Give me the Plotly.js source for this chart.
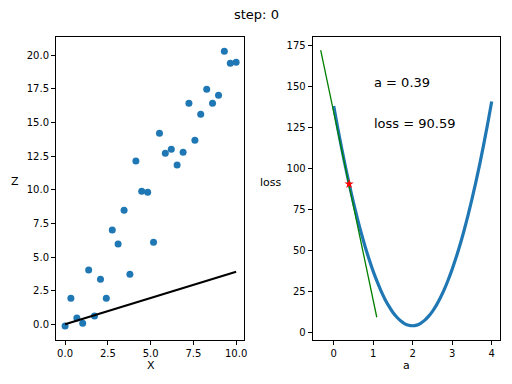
<!DOCTYPE html>
<html>
<head>
<meta charset="utf-8">
<script src="https://cdn.plot.ly/plotly-3.0.1.min.js"></script>
<style>html,body{margin:0;padding:0;background:#fff;}#chart{width:512px;height:384px;}</style>
</head>
<body>
<div id="chart"></div>
<script>
// Scatter data (left panel)
const xData = [0.00, 0.34, 0.69, 1.03, 1.38, 1.72, 2.07, 2.41, 2.76, 3.10,
               3.45, 3.79, 4.14, 4.48, 4.83, 5.17, 5.52, 5.86, 6.21, 6.55,
               6.90, 7.24, 7.59, 7.93, 8.28, 8.62, 8.97, 9.31, 9.66, 10.00];
const zData = [-0.12, 1.93, 0.47, 0.07, 4.04, 0.62, 3.35, 1.93, 7.01, 5.97,
               8.48, 3.72, 12.14, 9.89, 9.81, 6.10, 14.20, 12.71, 13.01, 11.85,
               12.79, 16.43, 13.68, 15.61, 17.47, 16.43, 17.03, 20.30, 19.41, 19.48];
// Current fit line z = a*x
const fitX = [0, 10];
const fitZ = [0, 3.9];
// Loss curve (right panel)
const curveA = [0.0,0.1,0.2,0.3,0.4,0.5,0.6,0.7,0.8,0.9,1.0,1.1,1.2,1.3,1.4,1.5,1.6,1.7,1.8,1.9,2.0,
                2.1,2.2,2.3,2.4,2.5,2.6,2.7,2.8,2.9,3.0,3.1,3.2,3.3,3.4,3.5,3.6,3.7,3.8,3.9,4.0];
const curveLoss = [138.2,125.1,112.6,100.8,89.7,79.3,69.5,60.4,52.0,44.3,37.2,30.9,25.2,20.1,15.8,12.1,9.2,6.9,5.2,4.3,4.0,
                   4.4,5.5,7.3,9.7,12.8,16.6,21.1,26.2,32.1,38.6,45.8,53.6,62.2,71.4,81.3,91.9,103.1,115.1,127.7,141.0];
// Tangent line and current point
const tangentA = [-0.33, 1.09];
const tangentLoss = [172.4, 9.2];
const currentA = [0.39];
const currentLoss = [90.59];
const titleText = "step: 0";
const aText = "a = 0.39";
const lossText = "loss = 90.59";

const font = "DejaVu Sans, sans-serif";
const axisCommon = {
  showgrid: false, zeroline: false, showline: true, mirror: true,
  linecolor: "#000", linewidth: 1, ticks: "outside", ticklen: 4, tickcolor: "#000",
  tickfont: {family: font, size: 10, color: "#000"}
};

const traces = [
  {x: xData, y: zData, mode: "markers", type: "scatter", xaxis: "x", yaxis: "y",
   marker: {color: "#1f77b4", size: 7}},
  {x: fitX, y: fitZ, mode: "lines", type: "scatter", xaxis: "x", yaxis: "y",
   line: {color: "#000", width: 2.2}},
  {x: curveA, y: curveLoss, mode: "lines", type: "scatter", xaxis: "x2", yaxis: "y2",
   line: {color: "#1f77b4", width: 3.2, shape: "spline"}},
  {x: tangentA, y: tangentLoss, mode: "lines", type: "scatter", xaxis: "x2", yaxis: "y2",
   line: {color: "green", width: 1.3}},
  {x: currentA, y: currentLoss, mode: "markers", type: "scatter", xaxis: "x2", yaxis: "y2",
   marker: {color: "red", symbol: "star", size: 7}}
];

const layout = {
  width: 512, height: 384, showlegend: false,
  paper_bgcolor: "#fff", plot_bgcolor: "#fff",
  margin: {l: 0, r: 0, t: 0, b: 0},
  font: {family: font, color: "#000"},
  xaxis: Object.assign({}, axisCommon, {domain: [56/512, 244/512], range: [-0.53, 10.46], tickvals: [0,2.5,5,7.5,10], tickformat: ".1f", anchor: "y"}),
  yaxis: Object.assign({}, axisCommon, {domain: [44/384, 347/384], range: [-1.17, 21.36], tickvals: [0,2.5,5,7.5,10,12.5,15,17.5,20], tickformat: ".1f", anchor: "x"}),
  xaxis2: Object.assign({}, axisCommon, {domain: [312.7/512, 500/512], range: [-0.532, 4.21], tickvals: [0,1,2,3,4], anchor: "y2"}),
  yaxis2: Object.assign({}, axisCommon, {domain: [44/384, 347/384], range: [-4.7, 180.4], tickvals: [0,25,50,75,100,125,150,175], anchor: "x2"}),
  annotations: [
    {text: titleText, xref: "paper", yref: "paper", x: 0.5, y: 1 - 14/384, xanchor: "center", yanchor: "middle", showarrow: false, font: {size: 13}},
    {text: "X", xref: "paper", yref: "paper", x: 150.5/512, y: 1 - 365.5/384, xanchor: "center", yanchor: "middle", showarrow: false, font: {size: 11}},
    {text: "a", xref: "paper", yref: "paper", x: 406/512, y: 1 - 365.5/384, xanchor: "center", yanchor: "middle", showarrow: false, font: {size: 11}},
    {text: "Z", xref: "paper", yref: "paper", x: 15/512, y: 1 - 182/384, xanchor: "center", yanchor: "middle", showarrow: false, font: {size: 11}},
    {text: "loss", xref: "paper", yref: "paper", x: 270.8/512, y: 1 - 182.7/384, xanchor: "center", yanchor: "middle", showarrow: false, font: {size: 11}},
    {text: aText, xref: "x2", yref: "y2", x: 1.0, y: 152.3, xanchor: "left", yanchor: "middle", showarrow: false, borderpad: 0, font: {size: 13}},
    {text: lossText, xref: "x2", yref: "y2", x: 1.0, y: 127.8, xanchor: "left", yanchor: "middle", showarrow: false, borderpad: 0, font: {size: 13}}
  ]
};

Plotly.newPlot("chart", traces, layout, {staticPlot: true, displayModeBar: false});
</script>
</body>
</html>
